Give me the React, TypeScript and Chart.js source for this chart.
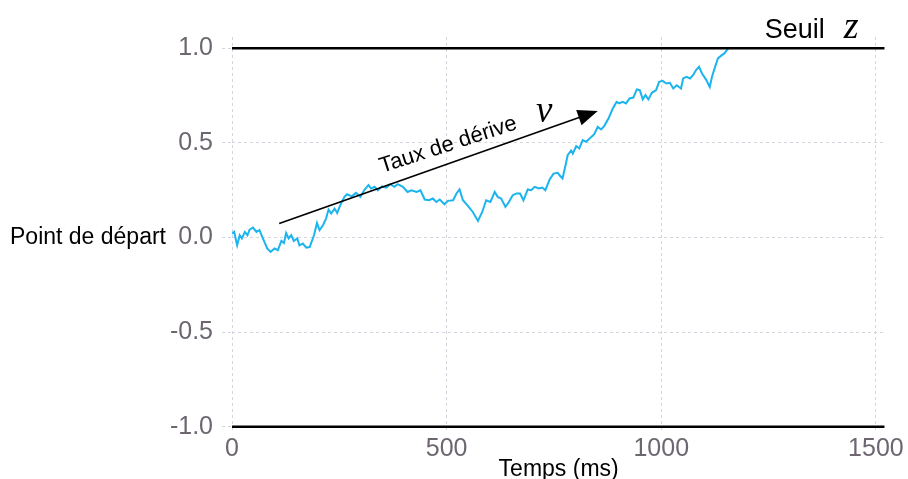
import React, { useEffect, useRef } from "react";
import { Chart, registerables } from "chart.js";

Chart.register(...registerables);

// ---- data ----
const timeMs = [
  0, 5, 12, 18, 23, 30, 36, 41, 49, 57, 64, 72, 82, 90, 99, 107, 115, 121, 126, 132,
  138, 144, 152, 157, 165, 173, 181, 191, 198, 204, 212, 219, 225, 231, 239, 245, 254, 262, 268, 279,
  289, 299, 309, 318, 324, 332, 340, 349, 359, 369, 378, 386, 398, 409, 418, 430, 439, 449, 459, 468,
  476, 484, 495, 503, 515, 523, 530, 538, 550, 561, 573, 583, 592, 602, 612, 619, 627, 637, 645, 654,
  663, 671, 679, 689, 697, 705, 715, 723, 730, 740, 749, 759, 763, 770, 777, 782, 790, 794, 802, 809,
  817, 825, 837, 844, 852, 860, 867, 877, 887, 896, 902, 910, 918, 926, 935, 943, 950, 957, 963, 970,
  978, 988, 995, 1003, 1012, 1020, 1028, 1036, 1046, 1051, 1059, 1067, 1074, 1081, 1088, 1095, 1104, 1113, 1118, 1126,
  1132, 1141, 1147, 1154, 1157,
];
const evidence = [
  0.021, 0.03, -0.041, 0.012, -0.005, 0.03, 0.012, 0.042, 0.053, 0.03, 0.039, -0.005, -0.058, -0.076, -0.058, -0.067, -0.018, -0.029, 0.024, -0.005,
  0.012, -0.018, -0.005, -0.041, -0.032, -0.053, -0.05, 0.012, 0.077, 0.039, 0.065, 0.1, 0.148, 0.127, 0.153, 0.13, 0.18, 0.215, 0.229, 0.218,
  0.236, 0.215, 0.254, 0.277, 0.259, 0.268, 0.25, 0.271, 0.264, 0.282, 0.268, 0.282, 0.268, 0.241, 0.25, 0.241, 0.25, 0.201, 0.197, 0.206,
  0.188, 0.201, 0.176, 0.194, 0.197, 0.233, 0.254, 0.197, 0.166, 0.135, 0.088, 0.135, 0.197, 0.188, 0.241, 0.215, 0.206, 0.162, 0.188, 0.224,
  0.233, 0.233, 0.197, 0.254, 0.25, 0.268, 0.259, 0.264, 0.25, 0.307, 0.338, 0.342, 0.329, 0.312, 0.382, 0.435, 0.46, 0.444, 0.483, 0.471,
  0.515, 0.506, 0.532, 0.546, 0.585, 0.571, 0.589, 0.629, 0.682, 0.717, 0.709, 0.717, 0.709, 0.735, 0.74, 0.783, 0.779, 0.73, 0.753, 0.73,
  0.765, 0.779, 0.823, 0.828, 0.814, 0.818, 0.788, 0.805, 0.788, 0.841, 0.849, 0.841, 0.858, 0.885, 0.902, 0.867, 0.836, 0.796, 0.849, 0.906,
  0.947, 0.964, 0.973, 0.994, 1.0,
];

const thresholdUpper = 1;
const thresholdLower = -1;
const thresholdSpanMs = [0, 1520];

const xTickValues = [0, 500, 1000, 1500];
const yTickValues = [-1, -0.5, 0, 0.5, 1];

const arrowStart = { x: 110, y: 0.074 };
const arrowEnd = { x: 852, y: 0.669 };
const driftLabelPos = { x: 508, y: 0.458 };
const nuPos = { x: 708, y: 0.61 };
const seuilPos = { x: 1241, y: 1.056 };
const startLabelValue = 0;

const driftLabel = "Taux de dérive";
const thresholdLabel = "Seuil";
const startLabel = "Point de départ";
const xTitle = "Temps (ms)";

const SANS = '"Liberation Sans", Arial, Helvetica, sans-serif';
const SERIF = '"Liberation Serif", "DejaVu Serif", serif';
const TICK_COLOR = "#6d6670";
const GRID_COLOR = "#d5d5e0";
const LINE_COLOR = "#1bb4ee";

const annotationPlugin = {
  id: "ddmAnnotations",
  afterDatasetsDraw(chart: any) {
    const { ctx, scales, chartArea } = chart;
    const xs = scales.x;
    const ys = scales.y;
    ctx.save();

    // drift arrow
    const x1 = xs.getPixelForValue(arrowStart.x);
    const y1 = ys.getPixelForValue(arrowStart.y);
    const x2 = xs.getPixelForValue(arrowEnd.x);
    const y2 = ys.getPixelForValue(arrowEnd.y);
    const ang = Math.atan2(y2 - y1, x2 - x1);
    const headLen = 20;
    const headHalf = 8;
    const bx = x2 - headLen * Math.cos(ang);
    const by = y2 - headLen * Math.sin(ang);
    ctx.strokeStyle = "#000";
    ctx.lineWidth = 1.7;
    ctx.beginPath();
    ctx.moveTo(x1, y1);
    ctx.lineTo(bx + 1 * Math.cos(ang), by + 1 * Math.sin(ang));
    ctx.stroke();
    ctx.fillStyle = "#000";
    ctx.beginPath();
    ctx.moveTo(x2, y2);
    ctx.lineTo(bx - headHalf * Math.sin(ang), by + headHalf * Math.cos(ang));
    ctx.lineTo(bx + headHalf * Math.sin(ang), by - headHalf * Math.cos(ang));
    ctx.closePath();
    ctx.fill();

    // drift label (rotated)
    ctx.save();
    ctx.translate(xs.getPixelForValue(driftLabelPos.x), ys.getPixelForValue(driftLabelPos.y));
    ctx.rotate((-18 * Math.PI) / 180);
    ctx.font = `22px ${SANS}`;
    ctx.fillStyle = "#000";
    ctx.textAlign = "center";
    ctx.textBaseline = "alphabetic";
    ctx.fillText(driftLabel, 0, 0);
    ctx.restore();

    // nu
    ctx.font = `italic 37px ${SERIF}`;
    ctx.fillStyle = "#000";
    ctx.textAlign = "left";
    ctx.textBaseline = "alphabetic";
    ctx.fillText("ν", xs.getPixelForValue(nuPos.x), ys.getPixelForValue(nuPos.y));

    // Seuil z
    const sx = xs.getPixelForValue(seuilPos.x);
    const sy = ys.getPixelForValue(seuilPos.y);
    ctx.font = `27px ${SANS}`;
    ctx.textAlign = "left";
    ctx.fillText(thresholdLabel, sx, sy);
    const sw = ctx.measureText(thresholdLabel).width;
    ctx.font = `italic 38px ${SERIF}`;
    ctx.fillText("z", sx + sw + 19, sy);

    // Point de départ
    ctx.font = `23px ${SANS}`;
    ctx.textAlign = "right";
    ctx.textBaseline = "middle";
    ctx.fillText(startLabel, chartArea.left - 66, ys.getPixelForValue(startLabelValue));

    // x title
    ctx.font = `23px ${SANS}`;
    ctx.textAlign = "center";
    ctx.textBaseline = "alphabetic";
    ctx.fillText(xTitle, (chartArea.left + chartArea.right) / 2, chartArea.bottom + 45);

    ctx.restore();
  },
};

export default function App() {
  const canvasRef = useRef<HTMLCanvasElement | null>(null);

  useEffect(() => {
    if (!canvasRef.current) return;
    const pathData = timeMs.map((t, i) => ({ x: t, y: evidence[i] }));
    const upper = thresholdSpanMs.map((t) => ({ x: t, y: thresholdUpper }));
    const lower = thresholdSpanMs.map((t) => ({ x: t, y: thresholdLower }));

    const chart = new Chart(canvasRef.current, {
      type: "line",
      data: {
        datasets: [
          {
            data: pathData,
            borderColor: LINE_COLOR,
            borderWidth: 2,
            pointRadius: 0,
            tension: 0,
            order: 2,
          },
          {
            data: upper,
            borderColor: "#000",
            borderWidth: 2.5,
            pointRadius: 0,
            clip: false as any,
            order: 1,
          },
          {
            data: lower,
            borderColor: "#000",
            borderWidth: 2.5,
            pointRadius: 0,
            clip: false as any,
            order: 1,
          },
        ],
      },
      options: {
        animation: false,
        responsive: false,
        layout: { padding: { top: 37, right: 21, left: 0, bottom: 0 } },
        plugins: {
          legend: { display: false },
          tooltip: { enabled: false },
          title: { display: false },
        },
        scales: {
          x: {
            type: "linear",
            min: 0,
            max: 1522,
            afterBuildTicks: (scale: any) => {
              scale.ticks = xTickValues.map((v) => ({ value: v }));
            },
            afterFit: (scale: any) => {
              scale.height = 48.5;
            },
            ticks: {
              color: TICK_COLOR,
              font: { family: SANS, size: 25 },
              padding: 4,
              maxRotation: 0,
              autoSkip: false,
              callback: (v: any) => String(v),
            },
            grid: {
              color: GRID_COLOR,
              lineWidth: 1,
              drawTicks: false,
            },
            border: { display: false, dash: [3, 3] },
          },
          y: {
            type: "linear",
            min: -1.02,
            max: 1.06,
            afterBuildTicks: (scale: any) => {
              scale.ticks = yTickValues.map((v) => ({ value: v }));
            },
            afterFit: (scale: any) => {
              scale.width = 232;
            },
            ticks: {
              color: TICK_COLOR,
              font: { family: SANS, size: 25 },
              padding: 9,
              callback: (v: any) => Number(v).toFixed(1),
            },
            grid: {
              color: GRID_COLOR,
              lineWidth: 1,
              drawTicks: true,
              tickLength: 10,
              tickBorderDash: [3, 3],
              tickColor: GRID_COLOR,
            },
            border: { display: false, dash: [3, 3] },
          },
        },
      },
      plugins: [annotationPlugin],
    });
    return () => chart.destroy();
  }, []);

  return (
    <div style={{ position: "absolute", left: 0, top: 0, width: 908, height: 479, background: "#fff" }}>
      <canvas ref={canvasRef} width={908} height={479} style={{ display: "block" }} />
    </div>
  );
}
